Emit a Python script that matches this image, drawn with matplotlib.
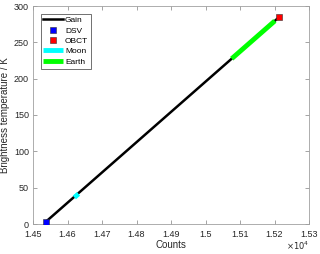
import numpy as np
import matplotlib.pyplot as plt
from matplotlib.ticker import FuncFormatter

plt.rcParams['font.family'] = ['Liberation Sans', 'DejaVu Sans']

# values (counts, kelvin)
gain_counts = [14537, 15214]
gain_temps = [3, 285]
dsv_counts = [14537]
dsv_temps = [3]
obct_counts = [15214]
obct_temps = [285]
moon_counts = [14620, 14632]
moon_temps = [36.5, 41.5]
earth_counts = [15076, 15201]
earth_temps = [227.5, 279.5]

x_ticks = np.arange(14500, 15301, 100)
y_ticks = np.arange(0, 301, 50)

fig = plt.figure(figsize=(3.2, 2.54), dpi=100)
ax = fig.add_axes([33 / 320, 1 - 224 / 254, 276 / 320, 218 / 254])

ax.plot(gain_counts, gain_temps, color='black', lw=1.8, label='Gain', zorder=2)
ax.plot(dsv_counts, dsv_temps, ls='none', marker='s', ms=5, mfc='#0000ff',
        mec='#303030', mew=0.4, label='DSV', zorder=4)
ax.plot(obct_counts, obct_temps, ls='none', marker='s', ms=5, mfc='#ff0000',
        mec='#303030', mew=0.4, label='OBCT', zorder=4)
ax.plot(moon_counts, moon_temps, color='#00ffff', lw=3.5, label='Moon',
        solid_capstyle='butt', zorder=3)
ax.plot(earth_counts, earth_temps, color='#00ff00', lw=3.5, label='Earth',
        solid_capstyle='butt', zorder=3)

ax.set_xlim(14500, 15300)
ax.set_ylim(0, 300)
ax.set_xticks(x_ticks)
ax.set_yticks(y_ticks)
ax.xaxis.set_major_formatter(FuncFormatter(lambda v, p: f'{v / 1e4:g}'))

grey = '#262626'
for s in ax.spines.values():
    s.set_color('#a0a0a0')
    s.set_linewidth(0.6)
ax.tick_params(direction='in', top=True, right=True, length=3, width=0.5,
               color='#808080', labelsize=6.5, labelcolor=grey)
ax.tick_params(axis='x', pad=4)
ax.tick_params(axis='y', pad=3)

ax.set_xlabel('Counts', fontsize=7, color=grey, labelpad=1)
ax.set_ylabel('Brightness temperature / K', fontsize=7, color=grey, labelpad=3)
ax.text(1.0, -0.12, r'$\times10^4$', transform=ax.transAxes, ha='right',
        va='baseline', fontsize=6, color=grey)

leg = ax.legend(loc='upper left', fontsize=6, frameon=True, fancybox=False,
                edgecolor='#303030', borderpad=0.35, labelspacing=0.3,
                handlelength=2.4, handletextpad=0.2, borderaxespad=0.9)
leg.get_frame().set_linewidth(0.6)

fig.savefig('out.png', dpi=100)
